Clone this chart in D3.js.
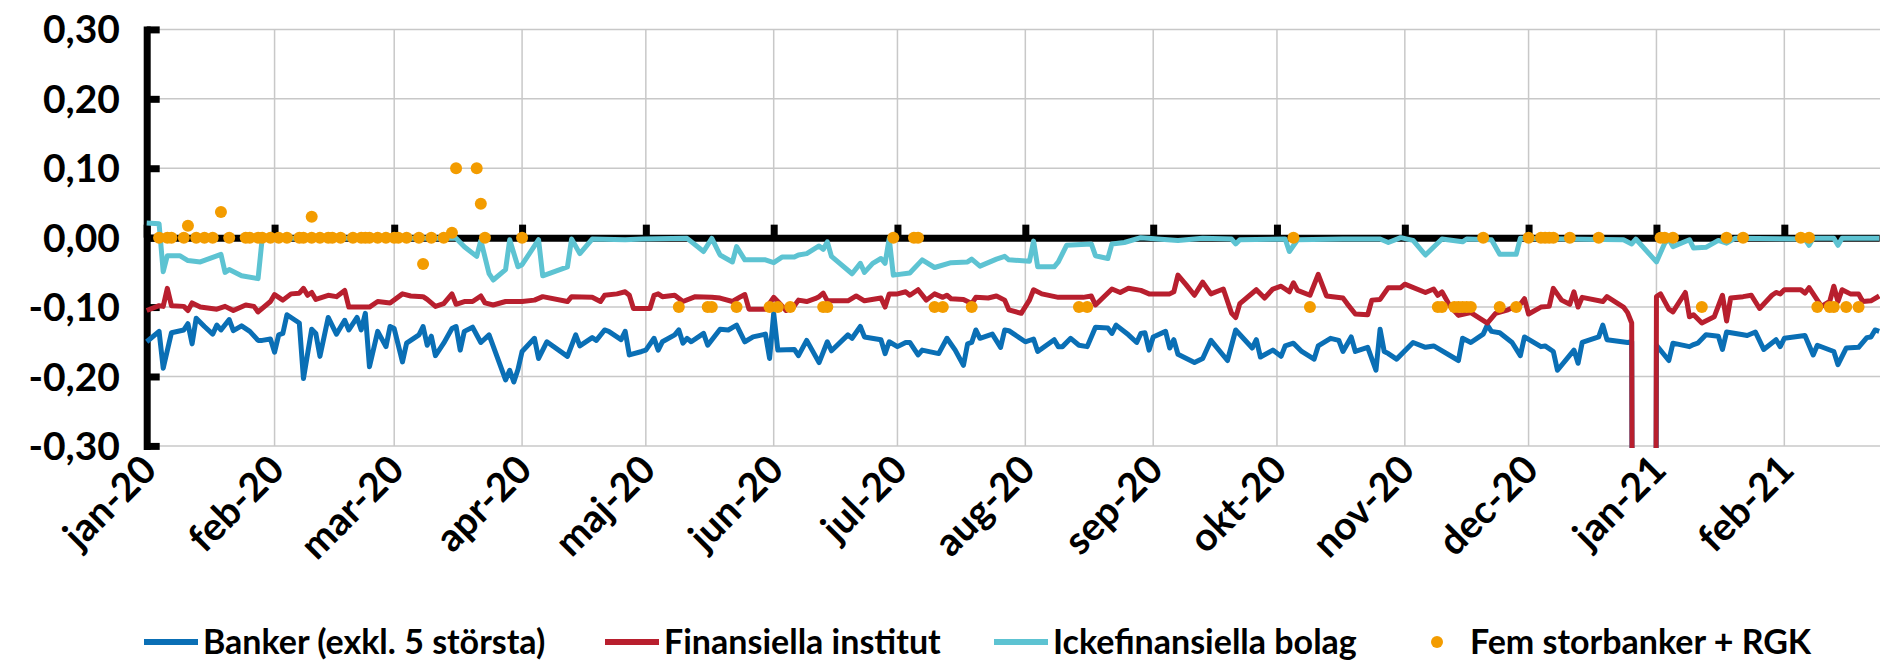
<!DOCTYPE html>
<html>
<head>
<meta charset="utf-8">
<title>Räntor</title>
<style>
  body { margin: 0; background: #fff; }
  svg { display: block; font-family: Lato, "Open Sans", sans-serif; font-weight: bold; }
  .grid line { stroke: #c8c8c8; stroke-width: 1.5; }
</style>
</head>
<body>
<svg id="chart" width="1880" height="666"></svg>
<script src="https://d3js.org/d3.v7.min.js"></script>
<script>
// days are counted from 2020-01-01
var seriesNames = ["Banker (exkl. 5 största)", "Finansiella institut", "Ickefinansiella bolag", "Fem storbanker + RGK"];
var monthLabels = ["jan-20", "feb-20", "mar-20", "apr-20", "maj-20", "jun-20", "jul-20", "aug-20", "sep-20", "okt-20", "nov-20", "dec-20", "jan-21", "feb-21"];
var yTicks = [-0.3, -0.2, -0.1, 0, 0.1, 0.2, 0.3];
var yTickLabels = ["-0,30", "-0,20", "-0,10", "0,00", "0,10", "0,20", "0,30"];

var bankDays = [0,3,4,6,9,10,11,12,14,16,17,18,20,21,23,25,27,28,30,31,32,33,34,37,38,40,41,42,44,46,48,49,51,52,53,54,56,58,
  59,60,62,63,66,67,68,69,70,72,74,75,76,77,79,81,83,87,88,89,90,91,94,95,97,102,104,105,108,109,111,112,115,116,117,
  120,121,123,124,125,128,129,130,131,132,135,136,139,141,143,145,147,150,151,152,153,157,158,160,163,165,166,170,171,173,174,178,179,
  180,182,184,185,187,188,192,194,196,198,199,200,201,202,205,207,208,209,213,215,216,220,221,222,224,226,228,230,233,234,235,238,240,
  241,242,243,244,247,248,249,250,254,256,258,262,264,268,269,270,273,275,276,278,280,283,284,287,289,290,292,293,296,298,299,300,
  301,303,307,310,312,318,319,321,324,325,326,328,331,333,334,338,339,341,342,346,347,348,352,353,354,359,
  360,361,365,366,369,370,374,375,376,378,381,382,383,387,388,390,392,395,396,397,402,404,405,409,410,412,415,417,418,419,420];
var bankValues = [-0.150,-0.135,-0.188,-0.137,-0.133,-0.124,-0.153,-0.116,-0.128,-0.139,-0.126,-0.133,-0.118,-0.134,-0.127,-0.135,-0.148,-0.148,-0.146,-0.165,-0.140,-0.138,-0.111,-0.123,-0.203,-0.132,-0.138,-0.171,-0.115,-0.139,-0.119,-0.133,-0.115,-0.133,-0.109,-0.186,-0.135,-0.157,
  -0.128,-0.131,-0.179,-0.152,-0.140,-0.128,-0.155,-0.142,-0.170,-0.152,-0.131,-0.128,-0.162,-0.135,-0.129,-0.151,-0.140,-0.205,-0.191,-0.208,-0.190,-0.164,-0.145,-0.174,-0.150,-0.171,-0.140,-0.156,-0.144,-0.148,-0.133,-0.135,-0.147,-0.135,-0.169,
  -0.164,-0.162,-0.145,-0.162,-0.150,-0.140,-0.133,-0.152,-0.145,-0.150,-0.138,-0.155,-0.132,-0.133,-0.126,-0.150,-0.143,-0.139,-0.174,-0.109,-0.162,-0.161,-0.170,-0.148,-0.180,-0.150,-0.163,-0.140,-0.145,-0.128,-0.143,-0.147,-0.167,
  -0.150,-0.157,-0.151,-0.151,-0.169,-0.162,-0.167,-0.145,-0.162,-0.184,-0.153,-0.151,-0.133,-0.145,-0.139,-0.158,-0.133,-0.134,-0.150,-0.146,-0.164,-0.147,-0.157,-0.157,-0.145,-0.155,-0.157,-0.129,-0.130,-0.138,-0.126,-0.140,-0.151,
  -0.138,-0.137,-0.162,-0.143,-0.135,-0.159,-0.147,-0.168,-0.180,-0.174,-0.148,-0.177,-0.133,-0.159,-0.147,-0.172,-0.162,-0.171,-0.156,-0.152,-0.164,-0.175,-0.156,-0.145,-0.148,-0.164,-0.143,-0.164,-0.158,-0.191,-0.132,-0.164,
  -0.167,-0.175,-0.151,-0.158,-0.156,-0.177,-0.145,-0.151,-0.139,-0.126,-0.135,-0.137,-0.151,-0.170,-0.143,-0.157,-0.156,-0.164,-0.191,-0.162,-0.181,-0.151,-0.143,-0.126,-0.147,-0.151,
  -0.150,-2.5,-2.5,-0.155,-0.177,-0.152,-0.157,-0.154,-0.152,-0.140,-0.142,-0.161,-0.136,-0.140,-0.141,-0.136,-0.161,-0.147,-0.157,-0.145,-0.141,-0.169,-0.155,-0.164,-0.183,-0.159,-0.158,-0.144,-0.143,-0.133,-0.135];

var finDays = [0,3,4,5,6,9,10,11,13,17,19,21,24,26,27,30,31,33,35,37,38,39,40,41,44,46,48,49,54,56,
  59,62,64,67,68,70,72,74,75,77,79,81,82,84,87,91,94,96,102,103,108,110,111,114,116,117,118,
  122,123,124,125,128,130,133,137,139,142,144,145,146,150,152,153,155,157,158,160,162,163,164,165,170,172,174,178,179,
  180,182,184,185,187,189,191,193,194,195,198,200,201,204,206,208,209,212,214,215,217,221,227,229,230,234,236,238,
  241,243,248,249,250,252,254,256,258,261,263,264,265,269,271,273,275,277,278,279,282,284,286,290,291,293,296,297,299,
  301,304,305,310,312,313,314,316,318,321,325,327,330,333,334,335,338,340,341,343,345,346,347,348,353,354,358,359,360,
  361,365,366,367,369,370,373,374,375,377,380,382,383,384,387,389,391,394,395,396,397,401,402,403,406,408,409,410,411,413,415,416,418,420];
var finValues = [-0.105,-0.098,-0.099,-0.073,-0.098,-0.099,-0.105,-0.094,-0.100,-0.103,-0.099,-0.105,-0.097,-0.099,-0.107,-0.092,-0.082,-0.090,-0.081,-0.080,-0.073,-0.083,-0.079,-0.089,-0.083,-0.085,-0.076,-0.100,-0.100,-0.092,
  -0.094,-0.081,-0.084,-0.085,-0.089,-0.099,-0.095,-0.081,-0.096,-0.092,-0.092,-0.084,-0.094,-0.097,-0.092,-0.092,-0.090,-0.085,-0.092,-0.085,-0.086,-0.092,-0.083,-0.081,-0.078,-0.083,-0.102,
  -0.102,-0.083,-0.081,-0.085,-0.083,-0.092,-0.085,-0.086,-0.087,-0.092,-0.085,-0.082,-0.103,-0.103,-0.086,-0.092,-0.105,-0.098,-0.090,-0.092,-0.088,-0.085,-0.080,-0.091,-0.091,-0.084,-0.091,-0.087,-0.100,
  -0.081,-0.081,-0.078,-0.083,-0.075,-0.090,-0.081,-0.086,-0.083,-0.088,-0.089,-0.095,-0.086,-0.087,-0.084,-0.090,-0.104,-0.109,-0.090,-0.075,-0.081,-0.086,-0.086,-0.084,-0.097,-0.074,-0.079,-0.073,
  -0.076,-0.081,-0.081,-0.078,-0.054,-0.068,-0.083,-0.064,-0.081,-0.074,-0.109,-0.115,-0.095,-0.075,-0.087,-0.074,-0.070,-0.078,-0.065,-0.076,-0.083,-0.053,-0.084,-0.087,-0.095,-0.110,-0.111,-0.090,-0.089,
  -0.072,-0.072,-0.067,-0.079,-0.074,-0.083,-0.078,-0.099,-0.112,-0.108,-0.123,-0.109,-0.104,-0.096,-0.088,-0.110,-0.100,-0.099,-0.073,-0.090,-0.096,-0.078,-0.100,-0.086,-0.092,-0.085,-0.100,-0.108,-0.123,
  -2.5,-2.5,-0.085,-0.081,-0.103,-0.107,-0.079,-0.114,-0.111,-0.123,-0.114,-0.083,-0.120,-0.087,-0.085,-0.083,-0.102,-0.083,-0.079,-0.081,-0.075,-0.075,-0.080,-0.072,-0.099,-0.092,-0.070,-0.092,-0.075,-0.081,-0.081,-0.092,-0.091,-0.084];

var ickeDays = [0,3,4,5,8,10,13,18,19,20,23,27,28,45,60,75,77,80,81,83,84,87,88,90,91,95,96,102,103,105,108,116,
  120,131,135,137,139,142,143,145,147,150,152,154,157,158,160,163,164,165,166,171,173,174,176,178,179,
  180,181,185,188,191,195,199,200,202,206,208,209,214,215,216,220,221,223,229,230,233,234,237,
  241,250,256,263,264,265,276,277,279,290,299,301,304,307,310,314,319,320,326,328,332,333,358,360,361,
  366,368,369,370,374,375,378,381,383,385,402,403,404,409,410,411,420];
var ickeValues = [0.021,0.020,-0.049,-0.026,-0.026,-0.033,-0.035,-0.024,-0.050,-0.046,-0.055,-0.059,-0.001,-0.001,-0.001,-0.001,-0.013,-0.027,-0.004,-0.052,-0.061,-0.046,-0.003,-0.042,-0.039,-0.003,-0.055,-0.042,-0.002,-0.023,-0.002,-0.003,
  -0.002,-0.001,-0.020,-0.001,-0.025,-0.035,-0.013,-0.032,-0.032,-0.032,-0.036,-0.028,-0.028,-0.025,-0.023,-0.012,-0.017,-0.006,-0.027,-0.052,-0.037,-0.050,-0.037,-0.030,-0.037,
  -0.001,-0.054,-0.051,-0.032,-0.043,-0.036,-0.035,-0.031,-0.041,-0.031,-0.027,-0.032,-0.034,-0.005,-0.042,-0.042,-0.035,-0.011,-0.009,-0.026,-0.030,-0.009,-0.007,
  0.000,-0.004,-0.001,-0.002,-0.009,-0.003,-0.002,-0.020,-0.003,-0.002,-0.002,-0.007,0.000,-0.004,-0.025,-0.002,-0.006,-0.002,-0.003,-0.024,-0.024,-0.001,-0.003,-0.009,-0.002,
  -0.035,-0.008,-0.002,-0.013,-0.003,-0.015,-0.014,-0.004,-0.008,-0.001,-0.002,-0.011,-0.001,-0.001,-0.011,-0.001,-0.001];

var femDays = [3,5,6,9,12,14,16,20,24,25,27,28,30,32,34,37,38,40,42,44,45,47,50,52,53,54,56,58,60,61,63,66,69,72,82,91,
  181,186,187,278,324,335,338,339,340,341,345,352,367,368,370,383,387,401,403,
  10,18,40,74,75,80,81,67,
  129,136,137,143,151,153,156,164,165,191,193,200,226,228,282,313,314,317,318,319,320,321,328,332,377,405,408,409,412,415];
var femValues = [0,0,0,0,0,0,0,0,0,0,0,0,0,0,0,0,0,0,0,0,0,0,0,0,0,0,0,0,0,0,0,0,0,0,0,0,
  0,0,0,0,0,0,0,0,0,0,0,0,0,0,0,0,0,0,0,
  0.017,0.037,0.030,0.007,0.100,0.100,0.049,-0.038,
  -0.1,-0.1,-0.1,-0.1,-0.1,-0.1,-0.1,-0.1,-0.1,-0.1,-0.1,-0.1,-0.1,-0.1,-0.1,-0.1,-0.1,-0.1,-0.1,-0.1,-0.1,-0.1,-0.1,-0.1,-0.1,-0.1,-0.1,-0.1,-0.1,-0.1];

var colors = ["#0a6fb5", "#b81f2e", "#5dc3d2", "#f39c00"];

var start = new Date(Date.UTC(2020, 0, 1));
function toPoints(days, values) {
  return days.map(function(d, i) { return {date: d3.utcDay.offset(start, d), v: values[i]}; });
}

var svg = d3.select("#chart");

var x = d3.scaleUtc()
    .domain([start, new Date(Date.UTC(2021, 1, 24))])
    .range([146.7, 1879.2]);
var y = d3.scaleLinear()
    .domain([-0.3, 0.3])
    .range([445.9, 29.4]);

var months = d3.utcMonth.range(start, x.domain()[1]);

// gridlines
var grid = svg.append("g").attr("class", "grid");
grid.selectAll(".h").data(yTicks.filter(function(t) { return t !== 0; }))
  .enter().append("line")
    .attr("x1", x.range()[0]).attr("x2", 1880)
    .attr("y1", function(d) { return y(d); }).attr("y2", function(d) { return y(d); });
grid.selectAll(".v").data(months.slice(1))
  .enter().append("line")
    .attr("x1", function(d) { return x(d); }).attr("x2", function(d) { return x(d); })
    .attr("y1", y(0.3)).attr("y2", y(-0.3));

// y axis, ticks pointing right
var yAxis = svg.append("g")
    .attr("transform", "translate(" + x.range()[0] + ",0)")
    .call(d3.axisRight(y).tickValues(yTicks).tickSize(13).tickSizeOuter(0).tickFormat(""));
yAxis.select(".domain").attr("stroke-width", 7).attr("stroke-linecap", "square");
yAxis.selectAll(".tick line").attr("stroke-width", 7);

svg.append("g").selectAll("text")
  .data(yTicks)
  .enter().append("text")
    .attr("x", 120)
    .attr("y", function(d) { return y(d); })
    .attr("dy", "0.36em")
    .attr("text-anchor", "end")
    .attr("font-size", 39)
    .text(function(d, i) { return yTickLabels[i]; });

// x axis on zero, ticks pointing up
var xAxis = svg.append("g")
    .attr("transform", "translate(0," + y(0) + ")")
    .call(d3.axisTop(x).tickValues(months).tickSize(13).tickSizeOuter(0).tickFormat(""));
xAxis.select(".domain").attr("stroke-width", 7);
xAxis.selectAll(".tick line").attr("stroke-width", 7);

svg.append("g").selectAll("text")
  .data(months)
  .enter().append("text")
    .attr("text-anchor", "end")
    .attr("font-size", 39)
    .attr("transform", function(d) { return "translate(" + (x(d) + 12) + ",472) rotate(-45)"; })
    .text(function(d, i) { return monthLabels[i]; });

// series
svg.append("clipPath").attr("id", "plot")
  .append("rect")
    .attr("x", x.range()[0] - 5).attr("y", y(0.3) - 5)
    .attr("width", 1880).attr("height", y(-0.3) - y(0.3) + 7);

var line = d3.line()
    .x(function(d) { return x(d.date); })
    .y(function(d) { return y(d.v); });

var lineData = [toPoints(bankDays, bankValues), toPoints(finDays, finValues), toPoints(ickeDays, ickeValues)];
svg.append("g").attr("clip-path", "url(#plot)")
  .selectAll("path")
  .data(lineData)
  .enter().append("path")
    .attr("fill", "none")
    .attr("stroke", function(d, i) { return colors[i]; })
    .attr("stroke-width", 5)
    .attr("stroke-linejoin", "round")
    .attr("d", line);

svg.append("g")
  .selectAll("circle")
  .data(toPoints(femDays, femValues))
  .enter().append("circle")
    .attr("cx", function(d) { return x(d.date); })
    .attr("cy", function(d) { return y(d.v); })
    .attr("r", 6)
    .attr("fill", colors[3]);

// legend
var legendX = [144, 605, 994, 1437];
var legend = svg.append("g").attr("transform", "translate(0,642)");
seriesNames.forEach(function(name, i) {
  if (i < 3) {
    legend.append("line")
      .attr("x1", legendX[i]).attr("x2", legendX[i] + 54)
      .attr("stroke", colors[i]).attr("stroke-width", 6);
    legend.append("text").attr("x", legendX[i] + 59).attr("dy", "0.36em")
      .attr("font-size", 34).text(name);
  } else {
    legend.append("circle").attr("cx", legendX[i]).attr("r", 6).attr("fill", colors[i]);
    legend.append("text").attr("x", legendX[i] + 33).attr("dy", "0.36em")
      .attr("font-size", 34).text(name);
  }
});
</script>
</body>
</html>
